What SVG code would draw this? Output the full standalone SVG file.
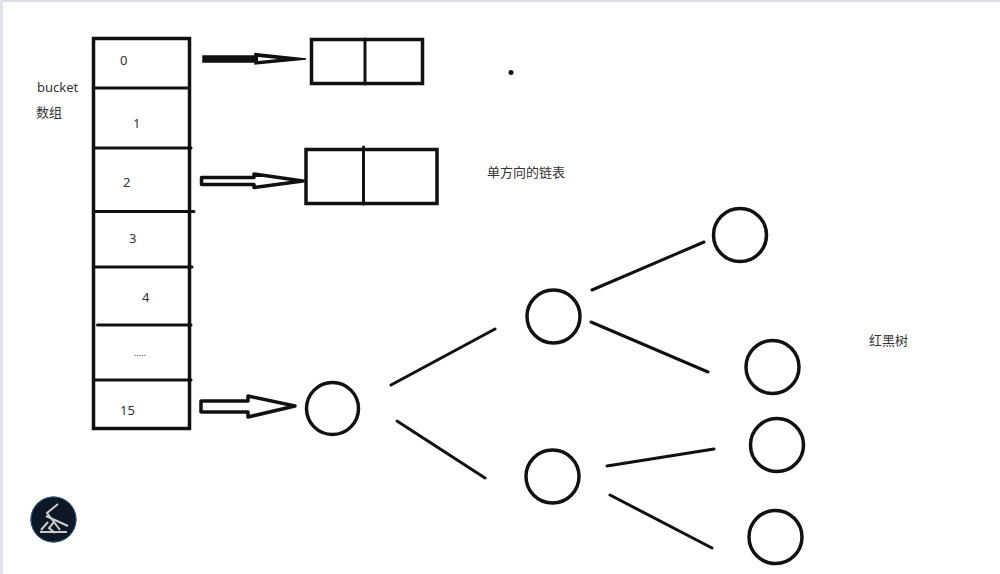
<svg xmlns="http://www.w3.org/2000/svg" width="1000" height="574" viewBox="0 0 1000 574">
<style>
.t{font-family:"Noto Sans","Noto Sans CJK SC",sans-serif;font-size:13px;fill:#333}
.c{font-family:"Noto Sans CJK SC","Noto Sans",sans-serif;font-size:13px;fill:#333}
.b{fill:none;stroke:#111;stroke-width:3.500}
.l{fill:none;stroke:#111;stroke-width:3;stroke-linecap:round}
.h{fill:#fff;stroke:#111;stroke-width:3.500;stroke-linejoin:round}
.n{fill:#fff;stroke:#111;stroke-width:3.500}
</style>
<rect width="1000" height="574" fill="#fff"/>
<rect width="1000" height="2" fill="#d8dce6"/>
<rect width="3" height="574" fill="#dfe4ec"/>
<g id="bucket">
<rect class="b" x="93.500" y="38.500" width="96" height="390"/>
<path class="l" d="M94 88H189M94 148H191M94 211.500H194M94 267H192M97.500 325H191M94 380H191"/>
</g>
<g id="labels">
<text class="t" x="37" y="92">bucket</text>
<text class="c" x="36" y="117">数组</text>
<text class="t" x="120" y="65">0</text>
<text class="t" x="133" y="128">1</text>
<text class="t" x="123" y="187">2</text>
<text class="t" x="129" y="243">3</text>
<text class="t" x="142" y="302">4</text>
<text class="t" x="134" y="356" style="font-size:9px">.....</text>
<text class="t" x="120" y="415">15</text>
<text class="c" x="487" y="177">单方向的链表</text>
<text class="c" x="869" y="345">红黑树</text>
</g>
<g id="list-a">
<rect class="b" x="311.500" y="39.500" width="111" height="44"/>
<path class="l" d="M365 39V84"/>
</g>
<g id="list-b">
<rect class="b" x="306" y="149.500" width="131" height="54"/>
<path class="l" d="M363.500 147V204"/>
</g>
<g id="dot"><circle cx="511" cy="72.500" r="2.500" fill="#111"/></g>
<g id="connectors">
<path d="M203 56H255V53.500L306 59L255 64V62H203Z" fill="#111" stroke="#111" stroke-width="1.500"/>
<path d="M258 57L278 59L258 61Z" fill="#fff"/>
<path class="h" d="M201.500 177.500H254V174L303 181L254 187.500V184.500H201.500Z"/>
<path class="h" d="M201 401H248V396L295 406L248 417V412H201Z"/>
<path class="l" d="M391 385L495 329M397 421L485 478M592 290L704 242M591 322L708 372M607 466L714 449M610 495L712 548"/>
</g>
<g id="n1"><circle class="n" cx="332.500" cy="408.500" r="26"/></g>
<g id="n2"><circle class="n" cx="553.500" cy="316.500" r="26.500"/></g>
<g id="n3"><circle class="n" cx="552.500" cy="476.500" r="26.500"/></g>
<g id="n4"><circle class="n" cx="740" cy="235" r="26.500"/></g>
<g id="n5"><circle class="n" cx="772.500" cy="367" r="26.500"/></g>
<g id="n6"><circle class="n" cx="777" cy="445" r="26.500"/></g>
<g id="n7"><circle class="n" cx="775.500" cy="537" r="26.500"/></g>
<g id="badge">
<circle cx="53.500" cy="519.500" r="23" fill="#0c1826"/>
<circle cx="53.500" cy="519.500" r="22.500" fill="none" stroke="#2d5a86" stroke-width="1"/>
<path d="M58 504L47 513L54 522L49 528L55 533M54 522L60 530M46 516L68 526M41 530L48 522M40 532H67" fill="none" stroke="#ccc" stroke-width="2"/>
</g>
</svg>
